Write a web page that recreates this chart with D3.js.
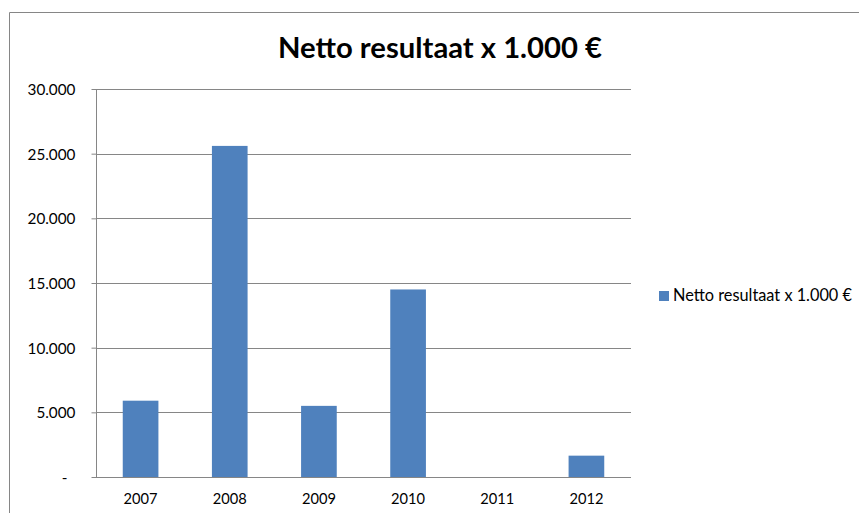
<!DOCTYPE html>
<html><head><meta charset="utf-8">
<script src="https://cdn.jsdelivr.net/npm/d3@7"></script>
<style>body{margin:0;background:#fff}svg{display:block}text{font-family:Lato,"Open Sans",sans-serif}</style>
</head><body>
<script>
const categories = ["2007","2008","2009","2010","2011","2012"];
const values = [5900, 25600, 5500, 14500, 0, 1650];
const yTicks = [0, 5000, 10000, 15000, 20000, 25000, 30000];
const seriesName = "Netto resultaat x 1.000 €";
const title = "Netto resultaat x 1.000 €";

const W = 859, H = 513;
const svg = d3.select("body").append("svg").attr("width", W).attr("height", H);
const m = {left: 96, right: 631, top: 89, bottom: 477};
const grey = "#868686";

// outer frame
svg.append("path").attr("d", `M9.5,${H} V12.5 H${W}`).attr("fill","none").attr("stroke", grey).attr("stroke-width",1);

const x = d3.scaleBand().domain(categories).range([m.left, m.right]).paddingInner(0.6).paddingOuter(0.3);
const y = d3.scaleLinear().domain([0, 30000]).range([m.bottom, m.top]);

function fit(sel, target){
  const w = sel.node().getComputedTextLength();
  const fs = parseFloat(sel.attr("font-size"));
  sel.attr("font-size", fs * target / w);
}

// gridlines
svg.append("g").selectAll("line").data(yTicks.filter(d=>d>0)).join("line")
  .attr("x1", m.left).attr("x2", m.right)
  .attr("y1", d=>Math.round(y(d))+0.5).attr("y2", d=>Math.round(y(d))+0.5)
  .attr("stroke", grey).attr("stroke-width", 1);

// y axis
const fmt = d => d === 0 ? "-" : d3.format(",")(d).replace(/,/g, ".");
const yAxis = svg.append("g").attr("transform", `translate(${m.left+0.5},0)`)
  .call(d3.axisLeft(y).tickValues(yTicks).tickSize(5).tickPadding(16).tickFormat(fmt));
yAxis.select(".domain").attr("stroke", grey).attr("d", `M0,${m.top} V${m.bottom}`);
yAxis.selectAll(".tick line").attr("stroke", grey);
yAxis.selectAll(".tick text").attr("font-size", 14).attr("fill", "#000").attr("font-family","Lato").attr("dy","0.36em");
yAxis.selectAll(".tick text").filter(d=>d===0).attr("x", -29);
const t25 = yAxis.selectAll(".tick text").filter(d=>d===25000);
const w25 = t25.node().getComputedTextLength();
yAxis.selectAll(".tick text").attr("font-size", 14*48/w25);

// bars
svg.append("g").selectAll("rect").data(values).join("rect")
  .attr("x", (d,i)=>x(categories[i])).attr("width", x.bandwidth())
  .attr("y", d=>y(d)).attr("height", d=>m.bottom - y(d))
  .attr("fill", "#4F81BD");

// x axis
const xAxis = svg.append("g").attr("transform", `translate(0,${m.bottom+0.5})`)
  .call(d3.axisBottom(x).tickSize(0).tickPadding(12));
xAxis.select(".domain").attr("stroke", grey).attr("d", `M${m.left},0 H${m.right}`);
xAxis.selectAll(".tick text").attr("font-size", 14).attr("fill","#000").attr("font-family","Lato").attr("dy","1em");
const t07 = xAxis.selectAll(".tick text").filter(d=>d==="2007");
const w07 = t07.node().getComputedTextLength();
xAxis.selectAll(".tick text").attr("font-size", 14*34/w07);

// title
const tt = svg.append("text").attr("x", 440).attr("y", 57.5).attr("text-anchor","middle")
  .attr("font-size", 28).attr("font-weight","bold").attr("fill","#000").text(title);
fit(tt, 324);

// legend
const lg = svg.append("g");
lg.append("rect").attr("x", 659).attr("y", 291).attr("width", 10).attr("height", 10).attr("fill", "#4F81BD");
const lt = lg.append("text").attr("x", 673).attr("y", 300.5).attr("font-size", 14).attr("fill","#000").text(seriesName);
fit(lt, 179);
</script>
</body></html>
